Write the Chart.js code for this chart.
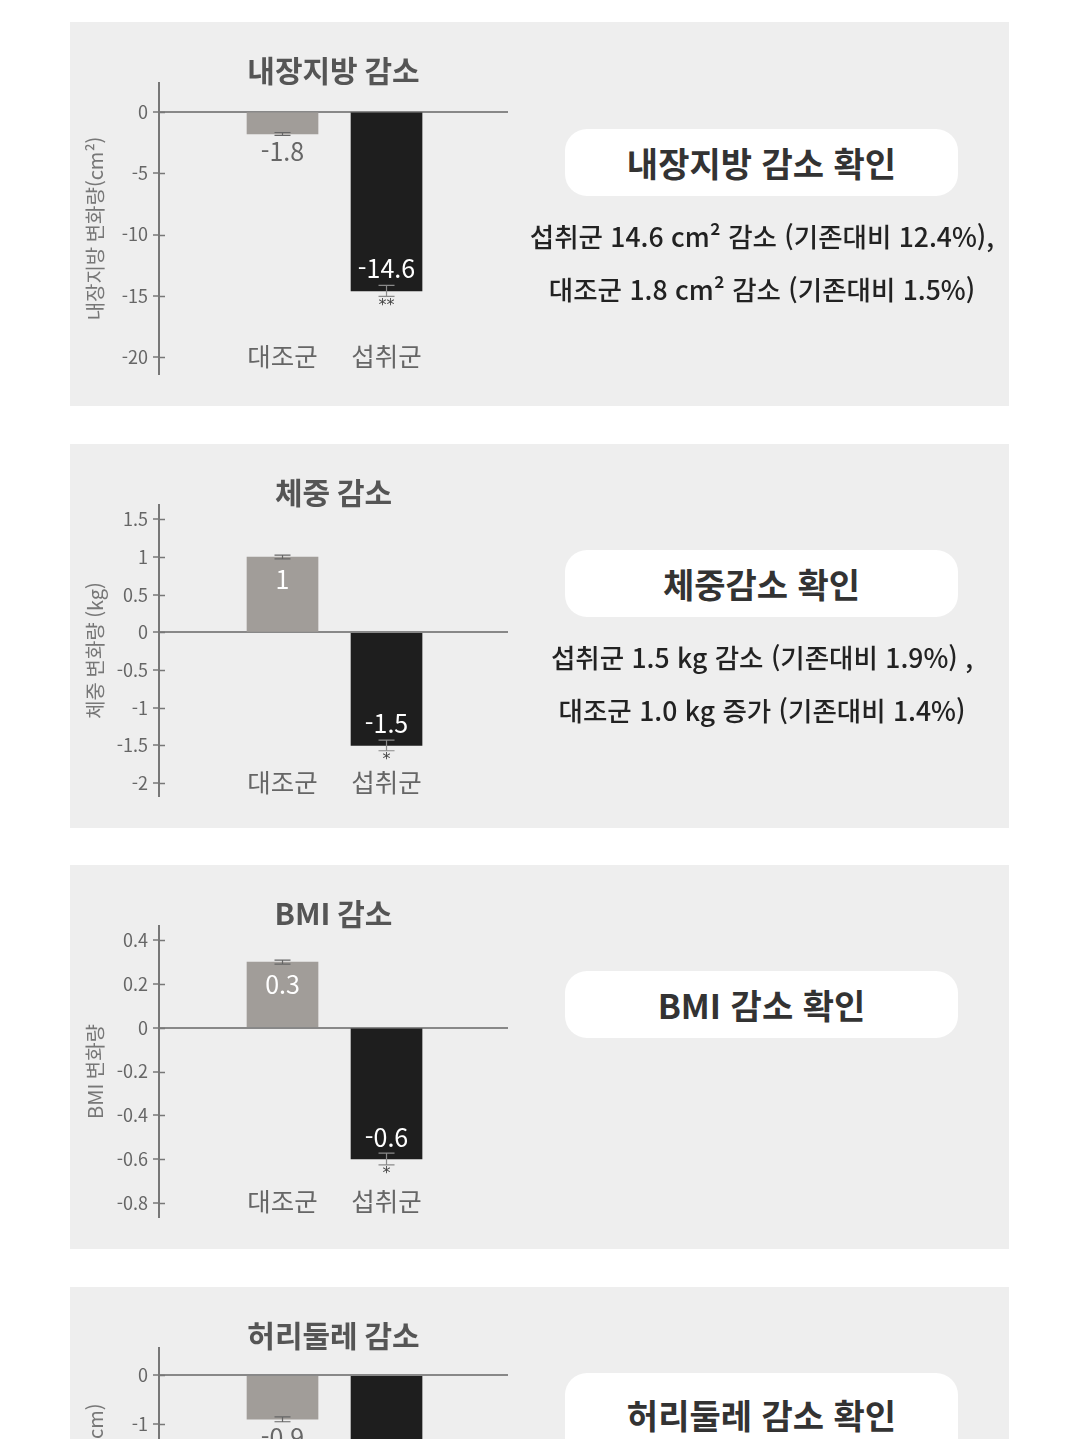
<!DOCTYPE html>
<html lang="ko">
<head>
<meta charset="utf-8">
<script src="https://cdn.jsdelivr.net/npm/chart.js@4.4.1/dist/chart.umd.min.js"></script>
<style>
  html, body { margin: 0; padding: 0; background: #fff; }
  body { width: 1080px; height: 1439px; overflow: hidden; position: relative;
         font-family: "Noto Sans CJK KR", "Noto Sans", sans-serif; }
  .panel { position: absolute; left: 70px; width: 939px; height: 384px; background: #eeeeee; overflow: hidden; }
  .panel canvas { position: absolute; left: 0; top: 0; }
  .pill { position: absolute; left: 495px; width: 393px; height: 67px; background: #fff; border-radius: 22px;
          text-align: center; font-weight: 700; font-size: 34px; color: #333; line-height: 67px; }
  .linea { position: absolute; left: 400px; width: 584px; text-align: center; font-size: 26.5px;
           font-weight: 500; color: #222; line-height: 30px; }
</style>
</head>
<body>

<div class="panel" style="top:22px">
  <canvas id="g1" width="450" height="384"></canvas>
  <div class="pill" style="top:107px">내장지방 감소 확인</div>
  <div class="linea" style="top:199px">섭취군 14.6 cm² 감소 (기존대비 12.4%),</div>
  <div class="linea" style="top:252px">대조군 1.8 cm² 감소 (기존대비 1.5%)</div>
</div>

<div class="panel" style="top:444px">
  <canvas id="g2" width="450" height="384"></canvas>
  <div class="pill" style="top:106px">체중감소 확인</div>
  <div class="linea" style="top:198px">섭취군 1.5 kg 감소 (기존대비 1.9%) ,</div>
  <div class="linea" style="top:251px">대조군 1.0 kg 증가 (기존대비 1.4%)</div>
</div>

<div class="panel" style="top:865px">
  <canvas id="g3" width="450" height="384"></canvas>
  <div class="pill" style="top:106px">BMI 감소 확인</div>
</div>

<div class="panel" style="top:1287px">
  <canvas id="g4" width="450" height="384"></canvas>
  <div class="pill" style="top:86px;height:110px;line-height:84px">허리둘레 감소 확인</div>
</div>

<script>
// grupos (eje x)
var grupos = ['대조군', '섭취군'];

// 내장지방
var grasaValores = [-1.8, -14.6];
var grasaErrores = [0.12, 0.45];
var grasaEstrellas = ['', '**'];
var grasaMarcas = [0, -5, -10, -15, -20];

// 체중
var pesoValores = [1, -1.5];
var pesoErrores = [0.025, 0.07];
var pesoEstrellas = ['', '*'];
var pesoMarcas = [1.5, 1, 0.5, 0, -0.5, -1, -1.5, -2];

// BMI
var bmiValores = [0.3, -0.6];
var bmiErrores = [0.009, 0.027];
var bmiEstrellas = ['', '*'];
var bmiMarcas = [0.4, 0.2, 0, -0.2, -0.4, -0.6, -0.8];

// 허리둘레 (el segundo valor queda fuera de la imagen, estimado)
var cinturaValores = [-0.9, -2.6];
var cinturaErrores = [0.05, 0.2];
var cinturaEstrellas = ['', '*'];
var cinturaMarcas = [0, -1, -2, -3, -4, -5];

var colores = ['#a19d99', '#1e1e1e'];

Chart.defaults.font.family = '"Noto Sans CJK KR", "Noto Sans", sans-serif';

// dibuja marcas interiores, barras de error, etiquetas y nombres de grupo
var adornos = {
  id: 'adornos',
  afterDatasetsDraw: function(chart, args, opts) {
    var ctx = chart.ctx;
    var y = chart.scales.y;
    var area = chart.chartArea;
    ctx.save();
    ctx.strokeStyle = '#777';
    ctx.lineWidth = 1.5;
    y.ticks.forEach(function(t) {
      var py = Math.round(y.getPixelForValue(t.value)) + 0.5;
      ctx.beginPath();
      ctx.moveTo(area.left, py);
      ctx.lineTo(area.left + 6, py);
      ctx.stroke();
    });

    var meta = chart.getDatasetMeta(0);
    var valores = chart.data.datasets[0].data;
    valores.forEach(function(p, i) {
      var v = p.y;
      var bar = meta.data[i];
      var cx = bar.x;
      var fin = y.getPixelForValue(v);
      var cero = y.getPixelForValue(0);
      var a = y.getPixelForValue(v + opts.errores[i]);
      var b = y.getPixelForValue(v - opts.errores[i]);
      // barra de error
      ctx.strokeStyle = i === 0 ? '#666' : '#8a8a8a';
      ctx.lineWidth = 1.2;
      ctx.beginPath();
      ctx.moveTo(cx, a); ctx.lineTo(cx, b);
      ctx.moveTo(cx - 8, a); ctx.lineTo(cx + 8, a);
      ctx.moveTo(cx - 8, b); ctx.lineTo(cx + 8, b);
      ctx.stroke();
      // estrellas
      if (opts.estrellas[i]) {
        ctx.fillStyle = '#444';
        ctx.font = '16px "DejaVu Sans"';
        ctx.textAlign = 'center';
        ctx.textBaseline = 'middle';
        ctx.fillText(opts.estrellas[i], cx, Math.max(a, b) + 9);
      }
      // etiqueta del valor
      ctx.font = '400 25px "Noto Sans CJK KR"';
      ctx.textAlign = 'center';
      ctx.textBaseline = 'middle';
      var largo = Math.abs(fin - cero);
      var ty;
      if (largo < 50) {
        ctx.fillStyle = '#666';
        ty = v < 0 ? fin + 18 : fin - 18;
      } else {
        ctx.fillStyle = '#fff';
        ty = v < 0 ? fin - 22 : fin + 22;
      }
      ctx.fillText(String(v), cx, ty);
    });

    // nombres de grupo a la altura de la marca mas baja
    var marcas = opts.marcas;
    var gy = y.getPixelForValue(marcas[marcas.length - 1]);
    ctx.fillStyle = '#666';
    ctx.font = '400 25.5px "Noto Sans CJK KR"';
    chart.data.labels.forEach(function(l, i) {
      ctx.fillText(l, meta.data[i].x, gy - 1);
    });
    ctx.restore();
  }
};

function crearGrafico(id, titulo, tituloEje, valores, errores, estrellas, marcas, minimo, maximo) {
  var puntos = valores.map(function(v, i) { return { x: i + 1, y: v }; });
  new Chart(document.getElementById(id), {
    type: 'bar',
    data: {
      labels: grupos,
      datasets: [{
        data: puntos,
        backgroundColor: colores,
        borderWidth: 0,
        barThickness: 71
      }]
    },
    plugins: [adornos],
    options: {
      responsive: false,
      animation: false,
      layout: { padding: { top: 0, right: 12, bottom: 32, left: 0 } },
      plugins: {
        legend: { display: false },
        tooltip: { enabled: false },
        title: {
          display: true,
          text: titulo,
          fullSize: false,
          color: '#555',
          font: { size: 30, weight: 'bold', lineHeight: 0.8 },
          padding: { top: 37, bottom: 0 }
        },
        adornos: { errores: errores, estrellas: estrellas, marcas: marcas }
      },
      scales: {
        x: { type: 'linear', display: false, offset: false, min: -0.1875, max: 3.168 },
        y: {
          min: minimo,
          max: maximo,
          afterBuildTicks: function(s) {
            s.ticks = marcas.map(function(v) { return { value: v }; });
          },
          afterFit: function(s) { s.width = 89; },
          border: { display: true, color: '#777', width: 2 },
          grid: {
            color: function(c) { return c.tick && c.tick.value === 0 ? '#888' : 'rgba(0,0,0,0)'; },
            lineWidth: 2,
            tickColor: '#777',
            tickLength: 6,
            tickWidth: 1.5
          },
          ticks: {
            color: '#666',
            font: { size: 18 },
            padding: 5,
            callback: function(v) { return String(v); }
          },
          title: {
            display: true,
            text: tituloEje,
            color: '#777',
            font: { size: 20, lineHeight: 1.2 },
            padding: { top: 13, bottom: 0 }
          }
        }
      }
    }
  });
}

crearGrafico('g1', '내장지방 감소', '내장지방 변화량(cm²)', grasaValores, grasaErrores, grasaEstrellas, grasaMarcas, -21.38, 2.36);
crearGrafico('g2', '체중 감소', '체중 변화량 (kg)', pesoValores, pesoErrores, pesoEstrellas, pesoMarcas, -2.17, 1.69);
crearGrafico('g3', 'BMI 감소', 'BMI 변화량', bmiValores, bmiErrores, bmiEstrellas, bmiMarcas, -0.865, 0.465);
crearGrafico('g4', '허리둘레 감소', '허리둘레 변화량 (cm)', cinturaValores, cinturaErrores, cinturaEstrellas, cinturaMarcas, -5.4, 0.56);
</script>
</body>
</html>
